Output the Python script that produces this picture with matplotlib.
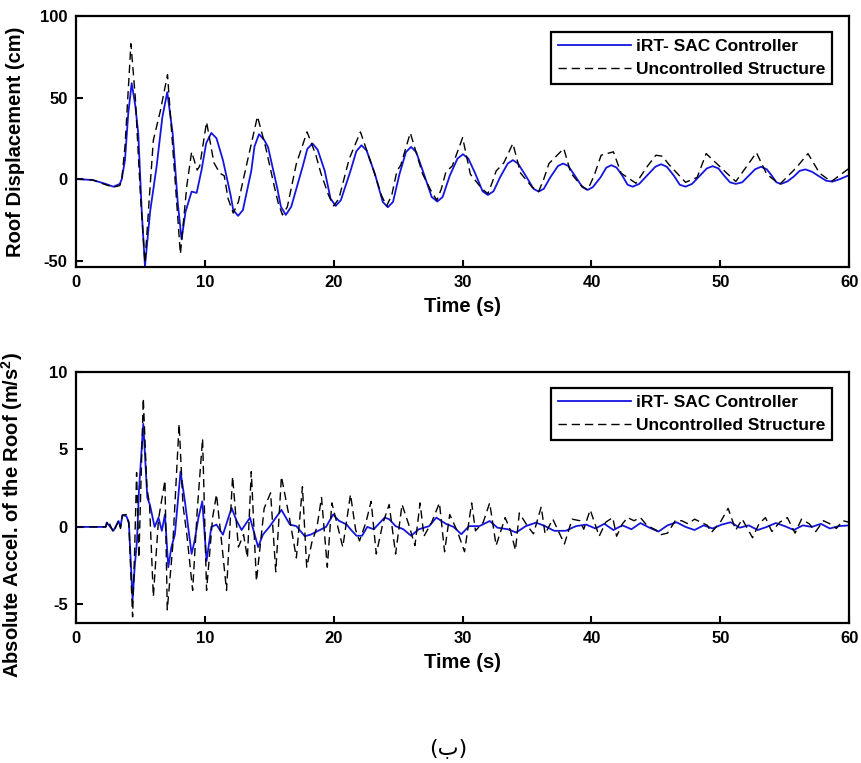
import matplotlib
matplotlib.use('Agg')
import matplotlib.pyplot as plt

plt.rcParams['font.family'] = ['Liberation Sans', 'DejaVu Sans']
plt.rcParams['axes.unicode_minus'] = False
plt.rcParams['mathtext.fontset'] = 'custom'
plt.rcParams['mathtext.rm'] = 'Liberation Sans'
plt.rcParams['mathtext.bf'] = 'Liberation Sans:bold'

# Roof displacement (cm)
disp_ctrl_t = [0.0, 1.3, 2.3, 2.9, 3.4, 3.55, 3.8, 4.05, 4.32, 4.6, 4.83, 5.1, 5.35, 5.75,
               6.25, 6.7, 7.08, 7.5, 7.9, 8.19, 8.5, 8.97, 9.36, 9.74, 10.1, 10.5, 10.9,
               11.4, 12.0, 12.2, 12.58, 12.95, 13.6, 13.85, 14.2, 14.6, 14.9, 15.6, 15.9,
               16.28, 16.7, 17.6, 17.95, 18.35, 18.75, 19.3, 19.75, 20.15, 20.55, 21.3,
               21.75, 22.15, 22.55, 23.2, 23.8, 24.2, 24.6, 25.1, 25.6, 26.0, 26.4, 27.0,
               27.6, 28.04, 28.45, 29.0, 29.6, 30.03, 30.45, 31.0, 31.55, 31.96, 32.4,
               32.9, 33.5, 33.9, 34.3, 34.9, 35.5, 35.9, 36.3, 36.8, 37.4, 37.8, 38.2,
               38.8, 39.3, 39.7, 40.1, 40.7, 41.15, 41.55, 41.95, 42.4, 42.8, 43.2, 43.7,
               44.3, 44.95, 45.4, 45.85, 46.4, 46.85, 47.3, 47.8, 48.4, 48.95, 49.4, 49.85,
               50.3, 50.75, 51.2, 51.7, 52.2, 52.7, 53.15, 53.6, 54.0, 54.35, 54.7, 55.2,
               55.7, 56.15, 56.6, 57.1, 57.7, 58.2, 58.7, 59.3, 60.0]
disp_ctrl = [0, -0.6, -3, -4.7, -3, 0, 11.6, 40, 58.8, 45, 28, -20, -53.5, -20,
             7.5, 38, 53.3, 28, -15, -37, -20, -7.7, -8.5, 5.5, 22, 28.3, 25,
             11.6, -10, -19, -22.6, -19, 5, 20, 27.5, 24, 19.6, -5, -17,
             -22, -17, 8, 18.5, 21.8, 18, 5, -12, -16.5, -13, 5,
             17, 20.7, 17.5, 3, -14, -17.3, -14, 3, 16.5, 19.7, 16.5, 3,
             -11, -13.8, -11, 2, 12.5, 15.2, 12.5, 3, -7.5, -9.8, -7.5,
             1, 9.5, 11.6, 9.5, 2, -6, -7.7, -6, 1, 8, 9.5, 8,
             1, -5, -6.7, -5, 1, 7, 8.5, 7, 2, -3.5, -4.7, -3,
             2, 7.5, 9.1, 7.5, 2, -3.5, -4.7, -3, 2, 6.5, 7.9, 6.5,
             2, -2, -3, -2, 2, 6, 7.5, 6, 2, -2, -3, -1.5,
             1.5, 5, 5.9, 4.5, 1.5, -1, -1.6, 0, 2.4]

disp_unc_t = [0.0, 1.3, 2.3, 2.9, 3.4, 3.55, 3.8, 4.26, 4.6, 5.0, 5.35, 5.7, 6.0, 6.54,
              7.1, 7.5, 8.1, 8.6, 8.97, 9.4, 9.6, 10.13, 10.7, 11.16, 11.5, 11.8, 12.2,
              12.6, 13.2, 14.08, 14.7, 15.4, 15.7, 16.02, 16.4, 17.1, 17.93, 18.6, 19.0,
              19.6, 20.0, 20.4, 21.2, 22.07, 23.1, 23.7, 24.1, 24.5, 24.9, 25.2, 25.94,
              26.9, 27.6, 28.0, 28.35, 28.7, 29.2, 30.0, 30.6, 31.5, 31.96, 32.3, 32.6,
              33.2, 33.9, 34.5, 35.4, 35.9, 36.3, 36.7, 37.85, 38.4, 39.2, 39.7, 40.2,
              40.75, 41.7, 42.3, 43.45, 44.4, 45.0, 45.5, 46.0, 47.3, 48.2, 48.9, 50.5,
              51.2, 52.0, 52.8, 53.6, 54.6, 55.9, 56.8, 57.7, 58.6, 60.0]
disp_unc = [0, -0.6, -3.5, -5, -4, 0, 20, 83, 50, -10, -51.5, -10, 23.8, 41.7,
            64, 20, -46, -4, 16.7, 5.5, 8, 35, 10, 3.6, 2, -12, -20.9,
            -14, 7.5, 38.4, 20, -5, -15, -22, -17, 9.5, 28.9, 15, 3.6,
            -10, -16.5, -12, 12.4, 28.9, 5, -10, -16.5, -10, 4.9, 8.5, 28.3,
            3, -8, -13, -6, 4.3, 8, 25.4, 3, -6, -9, -2, 4.9,
            10, 21.8, 3.6, -5, -7.7, 0, 9.5, 18.7, 3.6, -4, -6.7, 2,
            14.6, 16.7, 3.6, -2.6, 8.5, 14.6, 14, 9, -2, 1, 15.6, 3.6,
            -1.5, 7.3, 16.2, 3, -3.3, 7, 15.6, 3.6, -1.6, 6.6]

# Absolute acceleration of the roof (m/s2)
acc_ctrl_t = [0, 2.3, 2.38, 2.9, 3.3, 3.45, 3.6, 3.9, 4.1, 4.39, 4.55, 4.73, 4.88, 5.22,
              5.53, 5.74, 6.1, 6.4, 6.66, 6.9, 7.16, 7.4, 7.67, 8.11, 8.45, 8.7, 8.97,
              9.2, 9.5, 9.8, 10.13, 10.5, 10.9, 11.4, 12.07, 12.46, 12.85, 13.5, 14.13,
              14.5, 15.0, 15.94, 16.6, 17.1, 17.75, 18.2, 18.8, 19.4, 19.95, 20.4, 21.0,
              21.3, 21.76, 22.2, 22.6, 23.1, 23.5, 23.95, 24.3, 24.8, 25.4, 26.0, 26.6,
              27.4, 27.96, 28.7, 29.3, 29.9, 30.5, 31.3, 32.1, 32.7, 33.5, 34.16, 34.9,
              35.7, 36.4, 37.1, 38.0, 38.8, 39.6, 40.3, 41.0, 41.7, 42.4, 43.1, 43.8,
              44.5, 45.2, 45.9, 46.6, 47.3, 48.0, 48.7, 49.4, 50.1, 50.8, 51.5, 52.2,
              52.9, 53.6, 54.3, 55.0, 55.7, 56.4, 57.1, 57.8, 58.5, 59.2, 60.0]
acc_ctrl = [0, 0, 0.28, -0.25, 0.38, 0, 0.76, 0.7, 0.3, -4.7, -2.6, -0.9, 2.3, 6.65,
            1.9, 1.4, 0, 0.6, -0.25, 0.8, -2.6, -1.3, -0.5, 3.57, 1.65, 0, -1.74,
            -0.9, 0.6, 1.65, -2.2, 0, 0.15, -0.5, 1.23, 0.4, -0.2, 0.6, -1.3,
            -0.5, 0, 1.1, 0.15, 0.05, -0.6, -0.5, -0.25, 0, 0.8, 0.4, 0.15,
            -0.15, -0.57, -0.57, 0, -0.15, 0.2, 0.6, 0.5, 0.05, -0.15, -0.57, -0.15,
            0.05, 0.6, 0.2, 0, -0.47, 0.05, 0.05, 0.38, -0.05, -0.15, -0.36, 0.05,
            0.28, 0.05, -0.25, -0.25, 0.05, 0.15, -0.1, 0.2, -0.2, 0.1, -0.15, 0.25,
            -0.05, -0.3, 0.1, 0.3, 0.0, -0.2, 0.1, -0.1, 0.15, 0.3, -0.05, 0.1,
            -0.2, 0.0, 0.25, 0.05, -0.2, 0.1, 0.0, 0.2, -0.1, 0.05, 0.1]

acc_unc_t = [0, 2.3, 2.5, 2.9, 3.3, 3.45, 3.6, 3.9, 4.1, 4.39, 4.55, 4.7, 4.88, 5.22,
             5.5, 5.7, 6.0, 6.4, 6.9, 7.08, 7.5, 8.0, 8.3, 8.6, 9.05, 9.4, 9.82,
             10.13, 10.6, 10.9, 11.3, 11.68, 12.15, 12.6, 13.0, 13.3, 13.6, 14.0, 14.6,
             15.1, 15.5, 15.94, 16.6, 17.1, 17.57, 17.9, 18.3, 18.7, 19.05, 19.5, 19.85,
             20.2, 20.7, 21.3, 21.7, 22.0, 22.5, 22.9, 23.3, 23.8, 24.3, 24.8, 25.3,
             25.8, 26.3, 26.7, 27.0, 27.6, 28.2, 28.6, 29.0, 29.6, 30.15, 30.7, 31.0,
             31.6, 32.1, 32.6, 33.3, 33.7, 34.1, 34.4, 35.0, 35.5, 36.1, 36.4, 37.0,
             37.9, 38.5, 39.1, 39.4, 39.9, 40.6, 41.1, 41.65, 41.95, 42.4, 42.8, 43.3,
             43.8, 44.3, 45.0, 45.4, 45.9, 46.5, 47.0, 47.5, 48.0, 48.5, 49.0, 49.3,
             50.0, 50.6, 51.2, 51.7, 52.5, 53.0, 53.5, 54.0, 54.6, 55.2, 55.8, 56.3,
             56.9, 57.4, 58.0, 58.5, 59.0, 59.5, 60.0]
acc_unc = [0, 0, 0.4, -0.35, 0.4, -0.1, 0.76, 0.8, 0.2, -5.8, -1.5, 3.5, -2.0, 8.3,
           2.5, 1.5, -4.5, 0.5, 3.0, -5.35, -1.3, 6.65, 1.4, -0.5, -4.1, 1.0, 5.7,
           -4.1, 0.6, 2.1, -1.0, -4.1, 3.25, -1.3, -0.5, -2.0, 3.57, -3.5, 1.2,
           2.2, -2.9, 3.25, 0.4, -2.0, 2.6, -2.6, -1.0, 0.0, 1.9, -2.6, 1.55,
           0.4, -1.3, 2.1, -0.2, -0.9, 0.3, 1.65, -1.75, 0.2, 1.45, -1.75, 1.45,
           0.2, -1.2, 1.55, -0.6, 0.3, 1.55, -1.6, 0.8, -0.3, -1.6, 1.55, -0.25,
           0.3, 1.55, -1.2, 0.6, -0.2, -1.5, 0.9, 0.1, -0.45, 1.3, -0.45, 0.5,
           -1.1, 0.5, 0.4, -0.15, 1.1, -0.6, 0.3, 0.6, -0.6, 0.2, 0.6, 0.4,
           0.6, 0.1, -0.2, -0.5, -0.4, 0.4, 0.4, 0.2, 0.5, 0.3, 0.1, -0.36,
           0.3, 1.2, -0.2, 0.5, -0.7, 0.2, 0.6, -0.3, 0.3, 0.6, -0.4, 0.5,
           0.2, -0.3, 0.4, 0.2, -0.1, 0.4, 0.3]

labels = ['iRT- SAC Controller', 'Uncontrolled Structure']
x_ticks = [0, 10, 20, 30, 40, 50, 60]

fig = plt.figure(figsize=(8.61, 7.63), dpi=100)
ax1 = fig.add_axes([0.0883, 0.650, 0.898, 0.329])
ax2 = fig.add_axes([0.0883, 0.1835, 0.898, 0.329])


def style_axes(ax, yticks, ylim, ylabel, ylab_y):
    ax.set_xlim(0, 60)
    ax.set_ylim(*ylim)
    ax.set_xticks(x_ticks)
    ax.set_yticks(yticks)
    ax.tick_params(direction='in', length=5, width=1.5, labelsize=12, pad=6,
                   top=False, right=False)
    for lab in ax.get_xticklabels() + ax.get_yticklabels():
        lab.set_fontweight('bold')
    for sp in ax.spines.values():
        sp.set_linewidth(1.6)
    ax.set_xlabel('Time (s)', fontsize=14.5, fontweight='bold', labelpad=5)
    ax.set_ylabel(ylabel, fontsize=14.5, fontweight='bold')
    ax.yaxis.set_label_coords(-0.066, ylab_y)
    leg = ax.legend(labels, loc='upper right', bbox_to_anchor=(0.978, 0.936),
                    borderaxespad=0, fancybox=False, framealpha=1, edgecolor='black',
                    handlelength=4.2, handletextpad=0.3, labelspacing=0.45,
                    borderpad=0.4, prop={'weight': 'bold', 'size': 12.5})
    leg.get_frame().set_linewidth(1.6)


ax1.plot(disp_ctrl_t, disp_ctrl, color='#1515e0', lw=1.3)
ax1.plot(disp_unc_t, disp_unc, color='black', lw=1.0, ls=(0, (6, 3.5)))
style_axes(ax1, [-50, 0, 50, 100], (-54, 100), 'Roof Displacement (cm)', 0.5)

ax2.plot(acc_ctrl_t, acc_ctrl, color='#1515e0', lw=1.3)
ax2.plot(acc_unc_t, acc_unc, color='black', lw=1.0, ls=(0, (6, 3.5)))
style_axes(ax2, [-5, 0, 5, 10], (-6.2, 10),
           r'Absolute Accel. of the Roof (m/s$^{\mathbf{2}}$)', 0.43)

fig.text(448 / 861, 1 - 748 / 763, '(ب)', ha='center', va='center', fontsize=16,
         family=['DejaVu Sans'])

fig.savefig('out.png', dpi=100)
